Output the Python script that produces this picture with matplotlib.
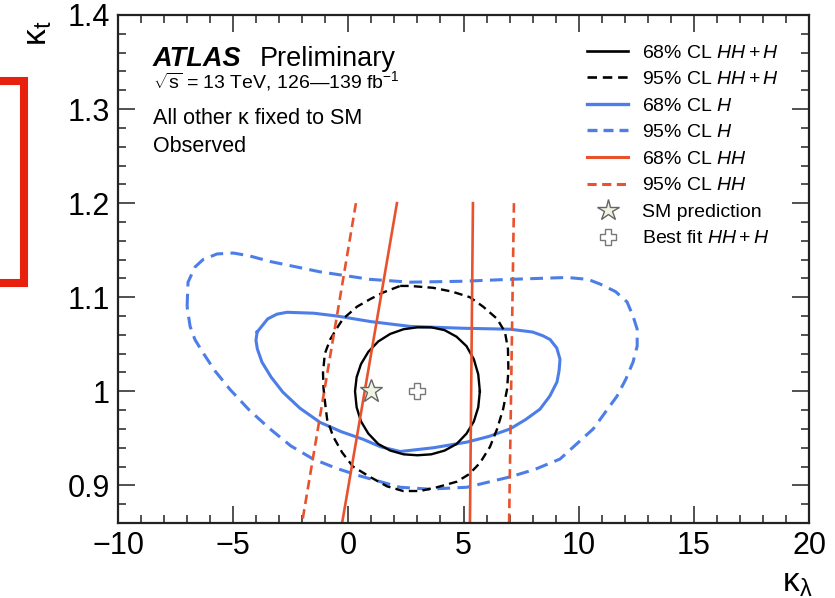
import matplotlib
matplotlib.use("Agg")
import matplotlib.pyplot as plt
from matplotlib.lines import Line2D
from matplotlib.patches import Rectangle

plt.rcParams['font.family'] = ['Liberation Sans', 'DejaVu Sans']
plt.rcParams['mathtext.fontset'] = 'custom'
plt.rcParams['mathtext.rm'] = 'Liberation Sans'
plt.rcParams['mathtext.it'] = 'Liberation Sans:italic'
plt.rcParams['mathtext.bf'] = 'Liberation Sans:bold'

# 68% CL HH+H (black solid)
comb68_x = [5.71, 5.64, 5.45, 5.13, 4.70, 4.18, 3.60, 3.00, 2.40, 1.82, 1.30, 0.87, 0.55, 0.36, 0.29, 0.36, 0.55,
            0.87, 1.30, 1.82, 2.40, 3.00, 3.60, 4.18, 4.70, 5.13, 5.45, 5.64]
comb68_y = [1.000, 1.018, 1.034, 1.048, 1.058, 1.065, 1.068, 1.068, 1.066, 1.061, 1.053, 1.042, 1.029, 1.015, 1.000,
            0.983, 0.968, 0.955, 0.944, 0.937, 0.933, 0.932, 0.933, 0.937, 0.944, 0.955, 0.968, 0.983]

# 95% CL HH+H (black dashed)
comb95_x = [2.25, 2.68, 3.68, 4.50, 5.28, 5.85, 6.46, 6.80, 6.93, 6.95, 6.89, 6.72, 6.46, 6.15, 5.72, 5.25, 4.72, 3.85,
            3.11, 2.38, 1.68, 0.94, 0.20, -0.27, -0.66, -0.92, -1.01, -1.08, -1.10, -1.02, -0.79, -0.50, -0.23, 0.38,
            0.95, 1.51]
comb95_y = [1.112, 1.112, 1.110, 1.106, 1.100, 1.090, 1.077, 1.063, 1.045, 1.022, 1.002, 0.981, 0.960, 0.941, 0.924,
            0.912, 0.904, 0.898, 0.894, 0.894, 0.899, 0.909, 0.920, 0.935, 0.952, 0.970, 0.988, 1.004, 1.020, 1.040,
            1.055, 1.067, 1.077, 1.090, 1.098, 1.105]

# 68% CL H (blue solid)
h68_x = [-3.96, -3.50, -3.10, -2.66, -1.50, -0.49, 1.00, 2.68, 5.00, 7.02, 8.00, 8.45, 8.76, 9.05, 9.19, 9.15, 9.06,
         8.75, 8.32, 7.70, 7.02, 6.10, 5.15, 3.70, 2.25, 1.40, 0.64, -0.30, -1.23, -2.10, -2.84, -3.35, -3.75, -3.95,
         -4.01]
h68_y = [1.063, 1.077, 1.082, 1.084, 1.083, 1.080, 1.074, 1.069, 1.067, 1.066, 1.063, 1.059, 1.055, 1.046, 1.034, 1.022,
         1.010, 0.995, 0.981, 0.970, 0.960, 0.952, 0.946, 0.940, 0.936, 0.941, 0.949, 0.957, 0.967, 0.982, 0.999, 1.015,
         1.031, 1.045, 1.054]

# 95% CL H (blue dashed)
h95_x = [-7.00, -6.96, -6.66, -6.31, -5.70, -5.00, -4.30, -3.40, -1.23, 0.94, 2.68, 5.00, 7.02, 9.50, 10.40, 10.93,
         11.60, 12.10, 12.36, 12.54, 12.54, 12.36, 12.05, 11.67, 10.63, 9.19, 8.10, 7.02, 5.15, 3.50, 2.25, 0.51,
         -0.50, -1.53, -2.50, -3.40, -4.30, -5.14, -5.80, -6.31, -6.66, -6.87]
h95_y = [1.090, 1.116, 1.132, 1.140, 1.146, 1.147, 1.144, 1.138, 1.127, 1.119, 1.116, 1.117, 1.119, 1.121, 1.119,
         1.114, 1.106, 1.095, 1.080, 1.066, 1.048, 1.031, 1.013, 0.995, 0.960, 0.928, 0.917, 0.909, 0.898, 0.896,
         0.898, 0.910, 0.918, 0.928, 0.942, 0.960, 0.980, 1.002, 1.022, 1.041, 1.055, 1.069]

# HH only bands (straight lines from kt = 1.2 down to the frame)
hh_kt = [1.2, 0.86]
hh68_left = [2.11, -0.27]
hh68_right = [5.41, 5.28]
hh95_left = [0.33, -2.01]
hh95_right = [7.19, 6.98]

sm_point = (1.0, 1.0)
best_fit = (3.0, 1.0)

blue = '#4d7ee8'
red = '#e8532e'

fig = plt.figure(figsize=(8.35, 5.98), dpi=100)
ax = fig.add_axes([118/835, 1-523/598, 691/835, 508/598])


def closed(xs, ys):
    return list(xs) + [xs[0]], list(ys) + [ys[0]]


x, y = closed(h95_x, h95_y)
ax.plot(x, y, color=blue, lw=2.2, ls=(0, (4.2, 2.4)), solid_joinstyle='round')
x, y = closed(h68_x, h68_y)
ax.plot(x, y, color=blue, lw=2.2, solid_joinstyle='round')
x, y = closed(comb95_x, comb95_y)
ax.plot(x, y, color='black', lw=1.7, ls=(0, (3.6, 2.2)))
x, y = closed(comb68_x, comb68_y)
ax.plot(x, y, color='black', lw=1.7, solid_joinstyle='round')

for xs in (hh68_left, hh68_right):
    ax.plot(xs, hh_kt, color=red, lw=1.9)
for xs in (hh95_left, hh95_right):
    ax.plot(xs, hh_kt, color=red, lw=1.9, ls=(0, (3.6, 2.0)))

ax.plot(*sm_point, marker='*', ms=17, mfc='#eef3e2', mec='#666666', mew=1.0, ls='none')
ax.plot(*best_fit, marker='P', ms=12, mfc='white', mec='#777777', mew=1.0, ls='none')

ax.set_xlim(-10, 20)
ax.set_ylim(0.86, 1.4)
ax.set_xticks([-10, -5, 0, 5, 10, 15, 20])
ax.set_xticklabels(['\u221210', '\u22125', '0', '5', '10', '15', '20'])
ax.set_yticks([0.9, 1.0, 1.1, 1.2, 1.3, 1.4])
ax.set_yticklabels(['0.9', '1', '1.1', '1.2', '1.3', '1.4'])
ax.set_xticks(range(-10, 21), minor=True)
ax.set_yticks([0.86 + 0.02 * i for i in range(28)], minor=True)
ax.tick_params(which='both', direction='in', top=True, right=True, width=1.1, color='#222222')
ax.tick_params(which='major', length=12, labelsize=22, pad=6)
ax.tick_params(which='minor', length=6)
for s in ax.spines.values():
    s.set_linewidth(1.6)
    s.set_color('#222222')

fig.text(38/835, 1-46/598, '\u03ba$_{\\mathrm{t}}$', rotation=90, ha='center', va='bottom', fontsize=24)
fig.text(812/835, 1-592/598, '\u03ba$_{\\mathrm{\u03bb}}$', ha='right', va='baseline', fontsize=24)

fig.text(153/835, 1-66/598, 'ATLAS', fontsize=19.5, fontweight='bold', fontstyle='italic', va='baseline')
fig.text(260/835, 1-66/598, 'Preliminary', fontsize=19.5, va='baseline')
fig.text(153/835, 1-88/598, '$\\sqrt{\\mathrm{s}}$ = 13 TeV, 126\u2014139 fb$^{-1}$', fontsize=14, va='baseline')
fig.text(153/835, 1-124/598, 'All other \u03ba fixed to SM', fontsize=15.5, va='baseline')
fig.text(153/835, 1-152/598, 'Observed', fontsize=15.5, va='baseline')

handles = [
    Line2D([], [], color='black', lw=1.9),
    Line2D([], [], color='black', lw=1.9, ls=(0, (3.6, 2.2))),
    Line2D([], [], color=blue, lw=2.4),
    Line2D([], [], color=blue, lw=2.4, ls=(0, (3.0, 1.8))),
    Line2D([], [], color=red, lw=2.2),
    Line2D([], [], color=red, lw=2.2, ls=(0, (3.0, 1.8))),
    Line2D([], [], marker='*', ms=16, mfc='#eef3e2', mec='#666666', mew=1.0, ls='none'),
    Line2D([], [], marker='P', ms=12, mfc='white', mec='#777777', mew=1.0, ls='none'),
]
labels = ['68% CL $HH+H$', '95% CL $HH+H$', '68% CL $H$', '95% CL $H$',
          '68% CL $HH$', '95% CL $HH$', 'SM prediction', 'Best fit $HH+H$']
ax.legend(handles, labels, loc='upper left', bbox_to_anchor=(0.679, 0.943), frameon=False,
          fontsize=14, handlelength=2.1, handletextpad=0.72, labelspacing=0.46,
          borderpad=0, borderaxespad=0)

fig.add_artist(Rectangle((-10/835, 1-283/598), 34/835, 202/598, transform=fig.transFigure,
                         fill=False, ec='#e8210e', lw=5.8))

plt.savefig('out.png', dpi=100)
